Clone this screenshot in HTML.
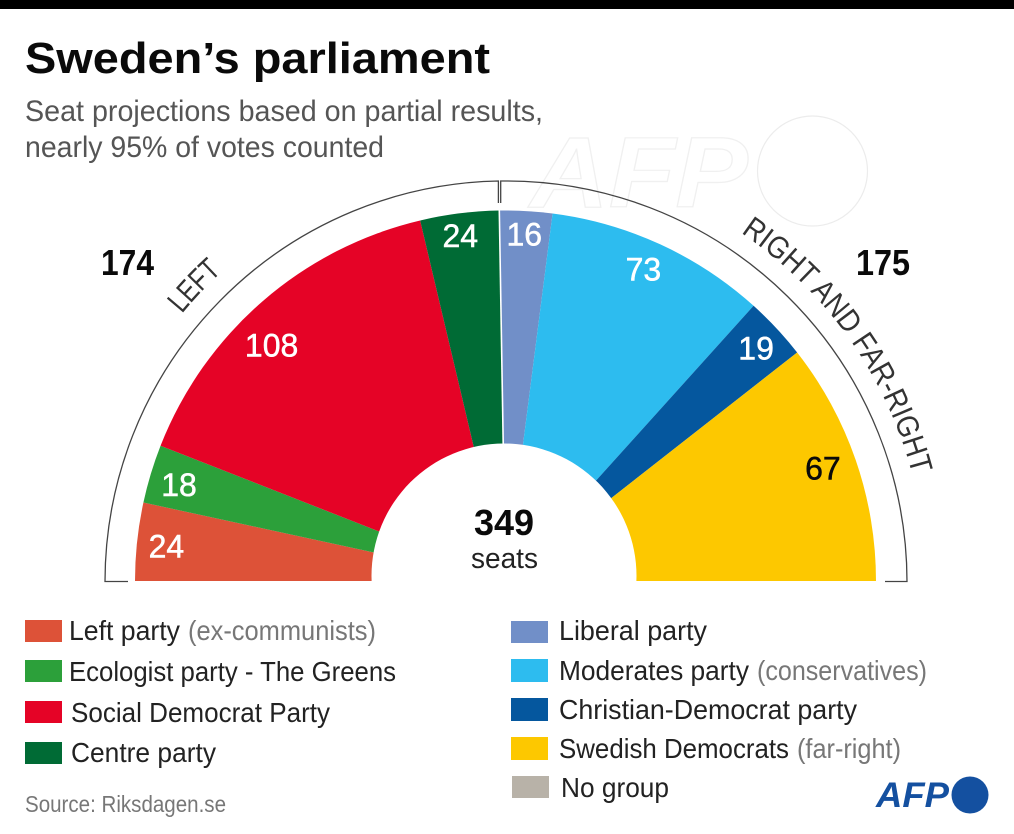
<!DOCTYPE html>
<html lang="en">
<head>
<meta charset="utf-8">
<title>Sweden's parliament</title>
<style>
html,body{margin:0;padding:0;background:#fff;}
svg{display:block;font-family:"Liberation Sans",sans-serif;}
</style>
</head>
<body>
<svg id="chart" width="1014" height="834" viewBox="0 0 1014 834" xmlns="http://www.w3.org/2000/svg">
  <rect x="0" y="0" width="1014" height="834" fill="#ffffff"/>
  <rect x="0" y="0" width="1014" height="9" fill="#000000"/>

  <g>
    <text x="530" y="207" font-size="100" font-weight="bold" font-style="italic" fill="#ffffff" stroke="#f0f0f0" stroke-width="1.2" textLength="218" lengthAdjust="spacingAndGlyphs">AFP</text>
    <circle cx="812.5" cy="171" r="55" fill="#ffffff" stroke="#ececec" stroke-width="1.2"/>
  </g>

  <text x="25" y="73" font-size="44" font-weight="bold" fill="#0a0a0a" textLength="465" lengthAdjust="spacingAndGlyphs">Sweden’s parliament</text>
  <text x="25" y="121" font-size="30" fill="#555555" textLength="518" lengthAdjust="spacingAndGlyphs">Seat projections based on partial results,</text>
  <text x="25" y="157" font-size="30" fill="#555555" textLength="359" lengthAdjust="spacingAndGlyphs">nearly 95% of votes counted</text>

  <g id="wedges"></g>
  <g id="brackets"></g>
  <g id="labels"></g>
  <defs id="arc-defs"></defs>

  <text id="left-bloc" font-size="31" fill="#333333"></text>
  <text id="right-bloc" font-size="31" fill="#333333"></text>

  <text id="left-total" x="101" y="275" font-size="36" font-weight="bold" fill="#0a0a0a" textLength="53" lengthAdjust="spacingAndGlyphs"></text>
  <text id="right-total" x="856" y="275" font-size="36" font-weight="bold" fill="#0a0a0a" textLength="54" lengthAdjust="spacingAndGlyphs"></text>

  <text id="total-seats" x="504" y="535" font-size="36" font-weight="bold" fill="#0a0a0a" text-anchor="middle"></text>
  <text x="471" y="568" font-size="29" fill="#222222" textLength="67" lengthAdjust="spacingAndGlyphs">seats</text>

  <g>
    <g>
      <rect x="25" y="620" width="37" height="22" fill="#dd5238"/>
      <text x="69" y="640" font-size="28" fill="#222222" textLength="111" lengthAdjust="spacingAndGlyphs">Left party</text>
      <text x="188" y="640" font-size="28" fill="#777777" textLength="188" lengthAdjust="spacingAndGlyphs">(ex-communists)</text>
    </g>
    <g>
      <rect x="25" y="660" width="37" height="22" fill="#2ca03a"/>
      <text x="69" y="681" font-size="28" fill="#222222" textLength="327" lengthAdjust="spacingAndGlyphs">Ecologist party - The Greens</text>
    </g>
    <g>
      <rect x="25" y="701" width="37" height="22" fill="#e50326"/>
      <text x="71" y="722" font-size="28" fill="#222222" textLength="259" lengthAdjust="spacingAndGlyphs">Social Democrat Party</text>
    </g>
    <g>
      <rect x="25" y="742" width="37" height="22" fill="#006b35"/>
      <text x="71" y="762" font-size="28" fill="#222222" textLength="145" lengthAdjust="spacingAndGlyphs">Centre party</text>
    </g>
    <g>
      <rect x="511" y="621" width="37" height="22" fill="#718fc8"/>
      <text x="559" y="640" font-size="28" fill="#222222" textLength="148" lengthAdjust="spacingAndGlyphs">Liberal party</text>
    </g>
    <g>
      <rect x="511" y="659" width="37" height="23" fill="#2dbcef"/>
      <text x="559" y="680" font-size="28" fill="#222222" textLength="190" lengthAdjust="spacingAndGlyphs">Moderates party</text>
      <text x="757" y="680" font-size="28" fill="#777777" textLength="170" lengthAdjust="spacingAndGlyphs">(conservatives)</text>
    </g>
    <g>
      <rect x="511" y="698" width="37" height="23" fill="#05579e"/>
      <text x="559" y="719" font-size="28" fill="#222222" textLength="298" lengthAdjust="spacingAndGlyphs">Christian-Democrat party</text>
    </g>
    <g>
      <rect x="511" y="737" width="37" height="23" fill="#fdc800"/>
      <text x="559" y="758" font-size="28" fill="#222222" textLength="230" lengthAdjust="spacingAndGlyphs">Swedish Democrats</text>
      <text x="797" y="758" font-size="28" fill="#777777" textLength="104" lengthAdjust="spacingAndGlyphs">(far-right)</text>
    </g>
    <g>
      <rect x="512" y="776" width="37" height="22" fill="#b8b2a8"/>
      <text x="561" y="797" font-size="28" fill="#222222" textLength="108" lengthAdjust="spacingAndGlyphs">No group</text>
    </g>
  </g>

  <text x="25" y="812" font-size="23" fill="#777777" textLength="201" lengthAdjust="spacingAndGlyphs">Source: Riksdagen.se</text>

  <g>
    <text x="876" y="807" font-size="35" font-weight="bold" font-style="italic" fill="#1450a0" textLength="73" lengthAdjust="spacingAndGlyphs">AFP</text>
    <circle cx="970" cy="795" r="18.5" fill="#1450a0"/>
  </g>
</svg>

<script>
// ---- Data ----
const parties = ["Left party", "Greens", "Social Democrats", "Centre", "Liberal", "Moderates", "Christian Democrats", "Swedish Democrats"];
const seats = [24, 18, 108, 24, 16, 73, 19, 67];
// The printed 73 and 67 sit on wedges drawn with the other party's size in the reference,
// so each wedge names the entry of `seats` that sets its sweep.
const wedgeSeatSource = [0, 1, 2, 3, 4, 7, 6, 5];
const leftBlocParties = [0, 1, 2, 3];
const rightBlocParties = [4, 5, 6, 7];

// ---- Layout and style ----
const wedgeColors = ["#dd5238", "#2ca03a", "#e50326", "#006b35", "#718fc8", "#2dbcef", "#05579e", "#fdc800"];
const labelColors = ["#ffffff", "#ffffff", "#ffffff", "#ffffff", "#ffffff", "#ffffff", "#ffffff", "#0a0a0a"];
const labelNudge = [[-1, 1], [-1, 2], [-11, 21], [-3, -8], [0, -7.5], [-4, -3], [2, -1], [-4, -2]];
const SVGNS = "http://www.w3.org/2000/svg";
const cx = 505.5, cy = 581, outerR = 370.5, holeCx = 504, holeCy = 576, holeR = 132.5, labelR = 340;
const bracketCx = 506, bracketR = 401, blocTextR = 420;

const sum = function (a) { return a.reduce(function (p, c) { return p + c; }, 0); };
const wedgeValues = wedgeSeatSource.map(function (k) { return seats[k]; });
const totalSeats = sum(wedgeValues);

// Axis: cumulative seats to degrees, 0 = left end and 180 = right end of the hemicycle.
function seatAngle(s) {
  const t = s / totalSeats;
  return 180 * t - 0.7 * Math.sin(Math.PI * t);
}
function polar(deg, r, ox, oy) {
  const a = deg * Math.PI / 180;
  return [ox - r * Math.cos(a), oy - r * Math.sin(a)];
}
function f(n) { return n.toFixed(2); }

const wedgeGroup = document.getElementById("wedges");
const labelGroup = document.getElementById("labels");
const bracketGroup = document.getElementById("brackets");

let cumulative = 0;
const midAngles = [];
wedgeValues.forEach(function (v, i) {
  const a0 = seatAngle(cumulative);
  const a1 = seatAngle(cumulative + v);
  cumulative += v;
  midAngles.push((a0 + a1) / 2);
  const p0 = polar(a0, outerR, cx, cy);
  const p1 = polar(a1, outerR, cx, cy);
  const large = (a1 - a0) > 180 ? 1 : 0;
  const path = document.createElementNS(SVGNS, "path");
  path.setAttribute("d", "M" + cx + " " + cy + "L" + f(p0[0]) + " " + f(p0[1]) + "A" + outerR + " " + outerR + " 0 " + large + " 1 " + f(p1[0]) + " " + f(p1[1]) + "Z");
  path.setAttribute("fill", wedgeColors[i]);
  
  
  wedgeGroup.appendChild(path);
});

// White separator between the two blocs
const blocSeats = sum(leftBlocParties.map(function (k) { return wedgeValues[k]; }));
const sepAngle = seatAngle(blocSeats);
const sepEnd = polar(sepAngle, outerR + 1, cx, cy);
const separator = document.createElementNS(SVGNS, "line");
separator.setAttribute("x1", cx);
separator.setAttribute("y1", cy);
separator.setAttribute("x2", f(sepEnd[0]));
separator.setAttribute("y2", f(sepEnd[1]));
separator.setAttribute("stroke", "#ffffff");
separator.setAttribute("stroke-width", "1.6");


wedgeGroup.appendChild(separator);

// Centre hole
const hole = document.createElementNS(SVGNS, "circle");
hole.setAttribute("cx", holeCx);
hole.setAttribute("cy", holeCy);
hole.setAttribute("r", holeR);
hole.setAttribute("fill", "#ffffff");


wedgeGroup.appendChild(hole);

// Seat value labels, placed from each wedge's mid-angle
seats.forEach(function (v, i) {
  const p = polar(midAngles[i], labelR, cx, cy);
  const t = document.createElementNS(SVGNS, "text");
  t.setAttribute("x", f(p[0] + labelNudge[i][0]));
  t.setAttribute("y", f(p[1] + labelNudge[i][1] + 11.5));
  t.setAttribute("text-anchor", "middle");
  t.setAttribute("font-size", "32");
  t.setAttribute("fill", labelColors[i]);
  t.setAttribute("stroke", labelColors[i]);
  t.setAttribute("stroke-width", "0.5");
  
  
  t.textContent = String(v);
  labelGroup.appendChild(t);
});

// Bloc brackets
const leftBracket = document.createElementNS(SVGNS, "path");
leftBracket.setAttribute("d", "M128 581.5L" + (bracketCx - bracketR) + " 581.5A" + bracketR + " " + bracketR + " 0 0 1 498.4 181V203");
leftBracket.setAttribute("fill", "none");
leftBracket.setAttribute("stroke", "#444444");
leftBracket.setAttribute("stroke-width", "1.3");


bracketGroup.appendChild(leftBracket);

const rightBracket = document.createElementNS(SVGNS, "path");
rightBracket.setAttribute("d", "M500.7 203V181A" + bracketR + " " + bracketR + " 0 0 1 " + (bracketCx + bracketR) + " 581.5L885 581.5");
rightBracket.setAttribute("fill", "none");
rightBracket.setAttribute("stroke", "#444444");
rightBracket.setAttribute("stroke-width", "1.3");


bracketGroup.appendChild(rightBracket);

// Curved bloc titles
function addCurvedText(textId, pathId, startDeg, endDeg, label, len) {
  const s = polar(startDeg, blocTextR, bracketCx, cy);
  const e = polar(endDeg, blocTextR, bracketCx, cy);
  const guide = document.createElementNS(SVGNS, "path");
  guide.setAttribute("id", pathId);
  guide.setAttribute("d", "M" + f(s[0]) + " " + f(s[1]) + "A" + blocTextR + " " + blocTextR + " 0 0 1 " + f(e[0]) + " " + f(e[1]));
  
  
  document.getElementById("arc-defs").appendChild(guide);
  const tp = document.createElementNS(SVGNS, "textPath");
  tp.setAttribute("href", "#" + pathId);
  tp.setAttribute("textLength", len);
  tp.setAttribute("lengthAdjust", "spacingAndGlyphs");
  tp.textContent = label;
  document.getElementById(textId).appendChild(tp);
}
addCurvedText("left-bloc", "left-bloc-path", 39.5, 47.5, "LEFT", 58);
addCurvedText("right-bloc", "right-bloc-path", 124, 165.3, "RIGHT AND FAR-RIGHT", 303);

// Totals
document.getElementById("left-total").textContent = String(sum(leftBlocParties.map(function (k) { return seats[k]; })));
document.getElementById("right-total").textContent = String(sum(rightBlocParties.map(function (k) { return seats[k]; })));
document.getElementById("total-seats").textContent = String(totalSeats);
</script>
</body>
</html>
